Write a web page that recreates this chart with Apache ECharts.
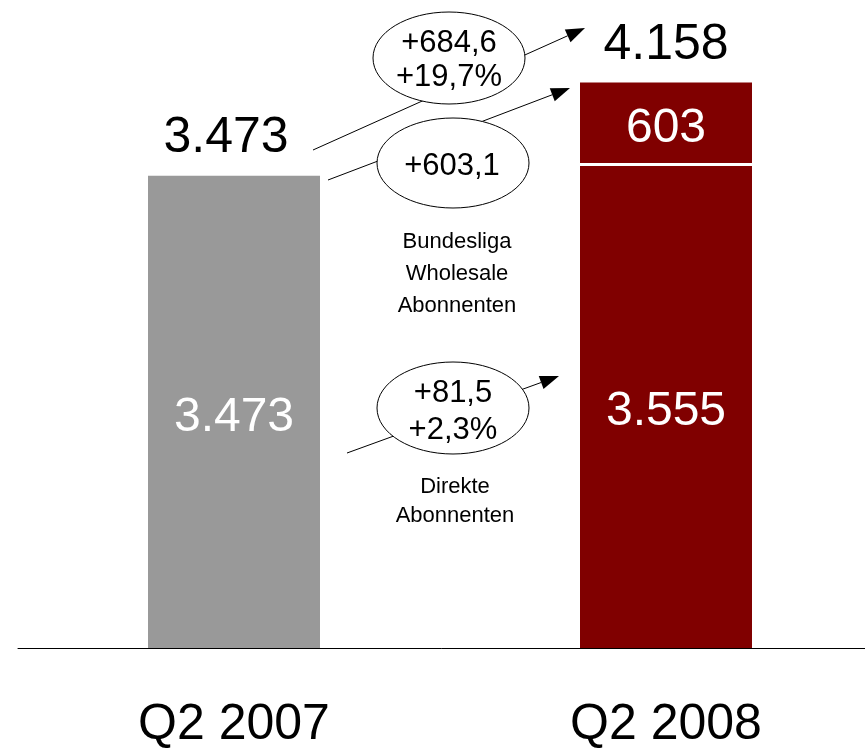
<!DOCTYPE html>
<html>
<head>
<meta charset="utf-8">
<script src="https://cdn.jsdelivr.net/npm/echarts@6/dist/echarts.min.js"></script>
<style>
  html, body { margin: 0; padding: 0; background: #fff; }
  #chart { width: 865px; height: 749px; }
</style>
</head>
<body>
<div id="chart"></div>
<script>
// Abonnenten (in Tausend), Q2 2007 vs. Q2 2008
const categories = ['Q2 2007', 'Q2 2008'];
const direkte = [3473, 3555];          // Direkte Abonnenten
const wholesale = [null, 603];         // Bundesliga Wholesale Abonnenten
const totals = [3473, 4158];           // Gesamt
const barColors = ['#999999', '#800000'];

// Veränderungen (Texte in den Ellipsen)
const changeTotal = ['+684,6', '+19,7%'];
const changeWholesale = ['+603,1'];
const changeDirekte = ['+81,5', '+2,3%'];
const noteWholesale = ['Bundesliga', 'Wholesale', 'Abonnenten'];
const noteDirekte = ['Direkte', 'Abonnenten'];

const FONT = "'Liberation Sans', Arial, Helvetica, sans-serif";
const BAR_WIDTH = 172;

function fmt(v) {
  return String(v).replace(/\B(?=(\d{3})+(?!\d))/g, '.');
}

const chart = echarts.init(document.getElementById('chart'), null, { renderer: 'canvas' });

// Arrow: thin line with a filled triangular head at (x2, y2)
function arrow(x1, y1, x2, y2) {
  const dx = x2 - x1, dy = y2 - y1;
  const len = Math.sqrt(dx * dx + dy * dy);
  const ux = dx / len, uy = dy / len;
  const headLen = 19, headHalf = 7;
  const bx = x2 - ux * headLen, by = y2 - uy * headLen;
  const px = -uy, py = ux;
  return [
    {
      type: 'line', z: 10,
      shape: { x1: x1, y1: y1, x2: bx, y2: by },
      style: { stroke: '#000', lineWidth: 1 }
    },
    {
      type: 'polygon', z: 10,
      shape: { points: [[x2, y2], [bx + px * headHalf, by + py * headHalf], [bx - px * headHalf, by - py * headHalf]] },
      style: { fill: '#000' }
    }
  ];
}

function bubble(cx, cy, rx, ry) {
  return {
    type: 'ellipse', z: 20,
    shape: { cx: cx, cy: cy, rx: rx, ry: ry },
    style: { fill: '#fff', stroke: '#000', lineWidth: 1 }
  };
}

function textLines(lines, cx, cy0, step, size) {
  return lines.map(function (t, i) {
    return {
      type: 'text', z: 30,
      style: {
        text: t, x: cx, y: cy0 + i * step,
        align: 'center', verticalAlign: 'middle',
        font: size + 'px ' + FONT, fill: '#000'
      }
    };
  });
}

const graphics = []
  .concat(arrow(313, 150, 585, 28))
  .concat(arrow(328, 180, 570, 88))
  .concat(arrow(347, 453, 559, 376))
  .concat([bubble(449, 58, 76, 46), bubble(453, 163, 76, 45), bubble(453, 408, 76, 46)])
  .concat(textLines(changeTotal, 449, 43, 34, 31))
  .concat(textLines(changeWholesale, 452, 166, 0, 31))
  .concat(textLines(changeDirekte, 453, 393, 37, 31))
  .concat(textLines(noteWholesale, 457, 242, 32, 22))
  .concat(textLines(noteDirekte, 455, 487, 29, 22));

const option = {
  animation: false,
  backgroundColor: '#fff',
  grid: {
    left: 18, width: 864, top: 36, bottom: 101,
    containLabel: false, outerBoundsMode: 'none'
  },
  xAxis: {
    type: 'category',
    data: categories,
    axisLine: { show: true, lineStyle: { color: '#000', width: 1 } },
    axisTick: { show: false },
    axisLabel: {
      color: '#000', fontSize: 50, fontFamily: FONT,
      margin: 52, lineHeight: 50
    }
  },
  yAxis: {
    type: 'value', min: 0, max: 4500,
    show: false,
    splitLine: { show: false }
  },
  series: [
    {
      name: 'Direkte Abonnenten',
      type: 'bar',
      stack: 'abo',
      barWidth: BAR_WIDTH,
      data: direkte.map(function (v, i) {
        return { value: v, itemStyle: { color: barColors[i] } };
      }),
      label: {
        show: true, position: 'inside', offset: [0, 6],
        color: '#fff', fontSize: 48, fontFamily: FONT,
        formatter: function (p) { return fmt(p.value); }
      },
      z: 2
    },
    {
      name: 'Bundesliga Wholesale Abonnenten',
      type: 'bar',
      stack: 'abo',
      barWidth: BAR_WIDTH,
      data: wholesale,
      itemStyle: { color: '#800000' },
      label: {
        show: true, position: 'inside', offset: [0, 5],
        color: '#fff', fontSize: 48, fontFamily: FONT,
        formatter: function (p) { return p.value ? fmt(p.value) : ''; }
      },
      z: 3
    },
    {
      name: 'Gesamt',
      type: 'bar',
      barWidth: BAR_WIDTH,
      barGap: '-100%',
      data: totals.map(function (v, i) {
        return { value: v, label: { offset: [i === 0 ? -8 : 0, 0] } };
      }),
      itemStyle: { color: 'rgba(0,0,0,0)' },
      label: {
        show: true, position: 'top', distance: 12,
        color: '#000', fontSize: 50, fontFamily: FONT,
        formatter: function (p) { return fmt(p.value); }
      },
      z: 4
    }
  ],
  graphic: graphics
};

chart.setOption(option);

// White separator between the stacked segments, placed at the segment boundary
const sepY = chart.convertToPixel({ yAxisIndex: 0 }, direkte[1]);
const sepX = chart.convertToPixel({ xAxisIndex: 0 }, categories[1]);
chart.setOption({
  graphic: graphics.concat([{
    type: 'rect', z: 5,
    shape: { x: sepX - BAR_WIDTH / 2 - 1, y: sepY - 1.5, width: BAR_WIDTH + 2, height: 3 },
    style: { fill: '#fff' }
  }])
});
</script>
</body>
</html>
